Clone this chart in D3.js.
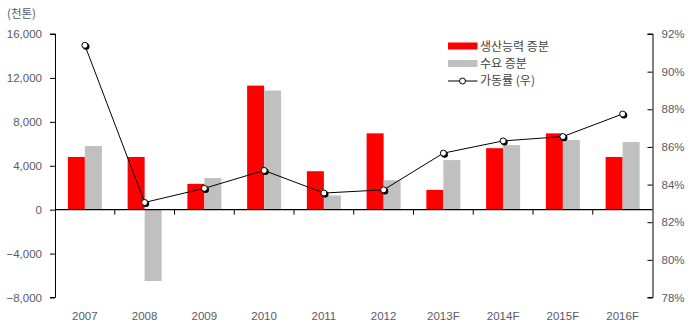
<!DOCTYPE html>
<html><head><meta charset="utf-8">
<script src="https://cdn.jsdelivr.net/npm/d3@7"></script>
<style>
body{margin:0;background:#fff;}
svg{display:block;font-family:"Liberation Sans",Arial,sans-serif;}
</style></head><body>
<svg id="c" width="700" height="329"></svg>
<script>
const categories = ["2007","2008","2009","2010","2011","2012","2013F","2014F","2015F","2016F"];
const capacityInc = [4800,4800,2350,11300,3500,6950,1800,5600,6950,4800];
const demandInc = [5800,-6500,2880,10850,1300,2680,4520,5880,6340,6160];
const utilization = [91.4,83.05,83.8,84.75,83.55,83.72,85.67,86.32,86.55,87.75];
const leftTicks = [-8000,-4000,0,4000,8000,12000,16000];
const rightTicks = [78,80,82,84,86,88,90,92];
const seriesNames = ["생산능력 증분","수요 증분","가동률 (우)"];
const unitLabel = "(천톤)";

const svg = d3.select("#c");
const L = 55, R = 652.5, T = 34, B = 297.5;
const x = d3.scaleBand().domain(categories).range([L, R]).paddingInner(0).paddingOuter(0);
const yL = d3.scaleLinear().domain([-8000,16000]).range([B, T]);
const yR = d3.scaleLinear().domain([78,92]).range([B, T]);
const bw = 17;
const txtCol = "#5a5a66";

// bars
svg.append("g").selectAll("rect").data(categories).join("rect")
  .attr("x", d => x(d) + x.bandwidth()/2 - bw)
  .attr("width", bw)
  .attr("y", (d,i) => Math.min(yL(capacityInc[i]), yL(0)))
  .attr("height", (d,i) => Math.abs(yL(capacityInc[i]) - yL(0)))
  .attr("fill", "#ff0000");
svg.append("g").selectAll("rect").data(categories).join("rect")
  .attr("x", d => x(d) + x.bandwidth()/2)
  .attr("width", bw)
  .attr("y", (d,i) => Math.min(yL(demandInc[i]), yL(0)))
  .attr("height", (d,i) => Math.abs(yL(demandInc[i]) - yL(0)))
  .attr("fill", "#c0c0c0");

// left axis
const gl = svg.append("g").attr("transform", `translate(${L},0)`)
  .call(d3.axisLeft(yL).tickValues(leftTicks).tickSize(5).tickPadding(8).tickFormat(d => d < 0 ? "\u2212" + d3.format(",")(-d) : d3.format(",")(d)));
gl.select(".domain").attr("stroke","#000").attr("d", `M-5,${yL(16000)}H0.5V${yL(-8000)}H-5`);
gl.selectAll("line").attr("stroke","#000");
gl.selectAll("text").attr("fill", txtCol).style("font-size","11.5px");

// right axis
const gr = svg.append("g").attr("transform", `translate(${R},0)`)
  .call(d3.axisRight(yR).tickValues(rightTicks).tickSize(-5).tickPadding(9).tickFormat(d => d + "%"));
gr.select(".domain").attr("stroke","#000").attr("d", `M-5,${yR(92)}H0.5V${yR(78)}H-5`);
gr.selectAll("line").attr("stroke","#000");
gr.selectAll("text").attr("fill", txtCol).style("font-size","11.5px").attr("x", 9);

// x axis at zero
svg.append("line").attr("x1", L).attr("x2", R).attr("y1", yL(0)).attr("y2", yL(0)).attr("stroke","#000").attr("stroke-width",1.2);
svg.append("g").selectAll("line").data(categories.slice(1)).join("line")
  .attr("x1", d => x(d)).attr("x2", d => x(d))
  .attr("y1", yL(0)).attr("y2", yL(0) + 5).attr("stroke","#000");
svg.append("g").selectAll("text").data(categories).join("text")
  .attr("x", d => x(d) + x.bandwidth()/2).attr("y", 320)
  .attr("text-anchor","middle").attr("fill", txtCol).style("font-size","11.5px").text(d => d);

// unit label
svg.append("text").attr("x", 7).attr("y", 18).attr("fill", txtCol).style("font-size","11.5px")
  .style("font-family","'Noto Sans CJK KR',sans-serif").text(unitLabel);

// line
const line = d3.line().x((d,i) => x(categories[i]) + x.bandwidth()/2).y(d => yR(d));
svg.append("path").datum(utilization).attr("d", line).attr("fill","none").attr("stroke","#000").attr("stroke-width",1);
const pts = svg.append("g").selectAll("g").data(utilization).join("g")
  .attr("transform", (d,i) => `translate(${x(categories[i]) + x.bandwidth()/2},${yR(d)})`);
pts.append("circle").attr("cx",1.3).attr("cy",1.3).attr("r",3.3).attr("fill","#000");
pts.append("circle").attr("r",3).attr("fill","#fff").attr("stroke","#000").attr("stroke-width",1);

// legend
const lg = svg.append("g").attr("transform","translate(448,0)");
const lf = "'Noto Sans CJK KR',sans-serif";
lg.append("rect").attr("x",0).attr("y",42.5).attr("width",29.5).attr("height",7).attr("fill","#ff0000");
lg.append("rect").attr("x",0).attr("y",60).attr("width",29.5).attr("height",7).attr("fill","#c0c0c0");
lg.append("line").attr("x1",0).attr("x2",29.5).attr("y1",81).attr("y2",81).attr("stroke","#000");
lg.append("circle").attr("cx",14.5).attr("cy",81).attr("r",3).attr("fill","#fff").attr("stroke","#000");
[46.5, 63.5, 81].forEach((yy,i) => {
  lg.append("text").attr("x",32).attr("y",yy).attr("dy","0.35em").attr("fill","#444")
    .style("font-size","12px").style("font-family",lf).text(seriesNames[i]);
});
</script>
</body></html>
